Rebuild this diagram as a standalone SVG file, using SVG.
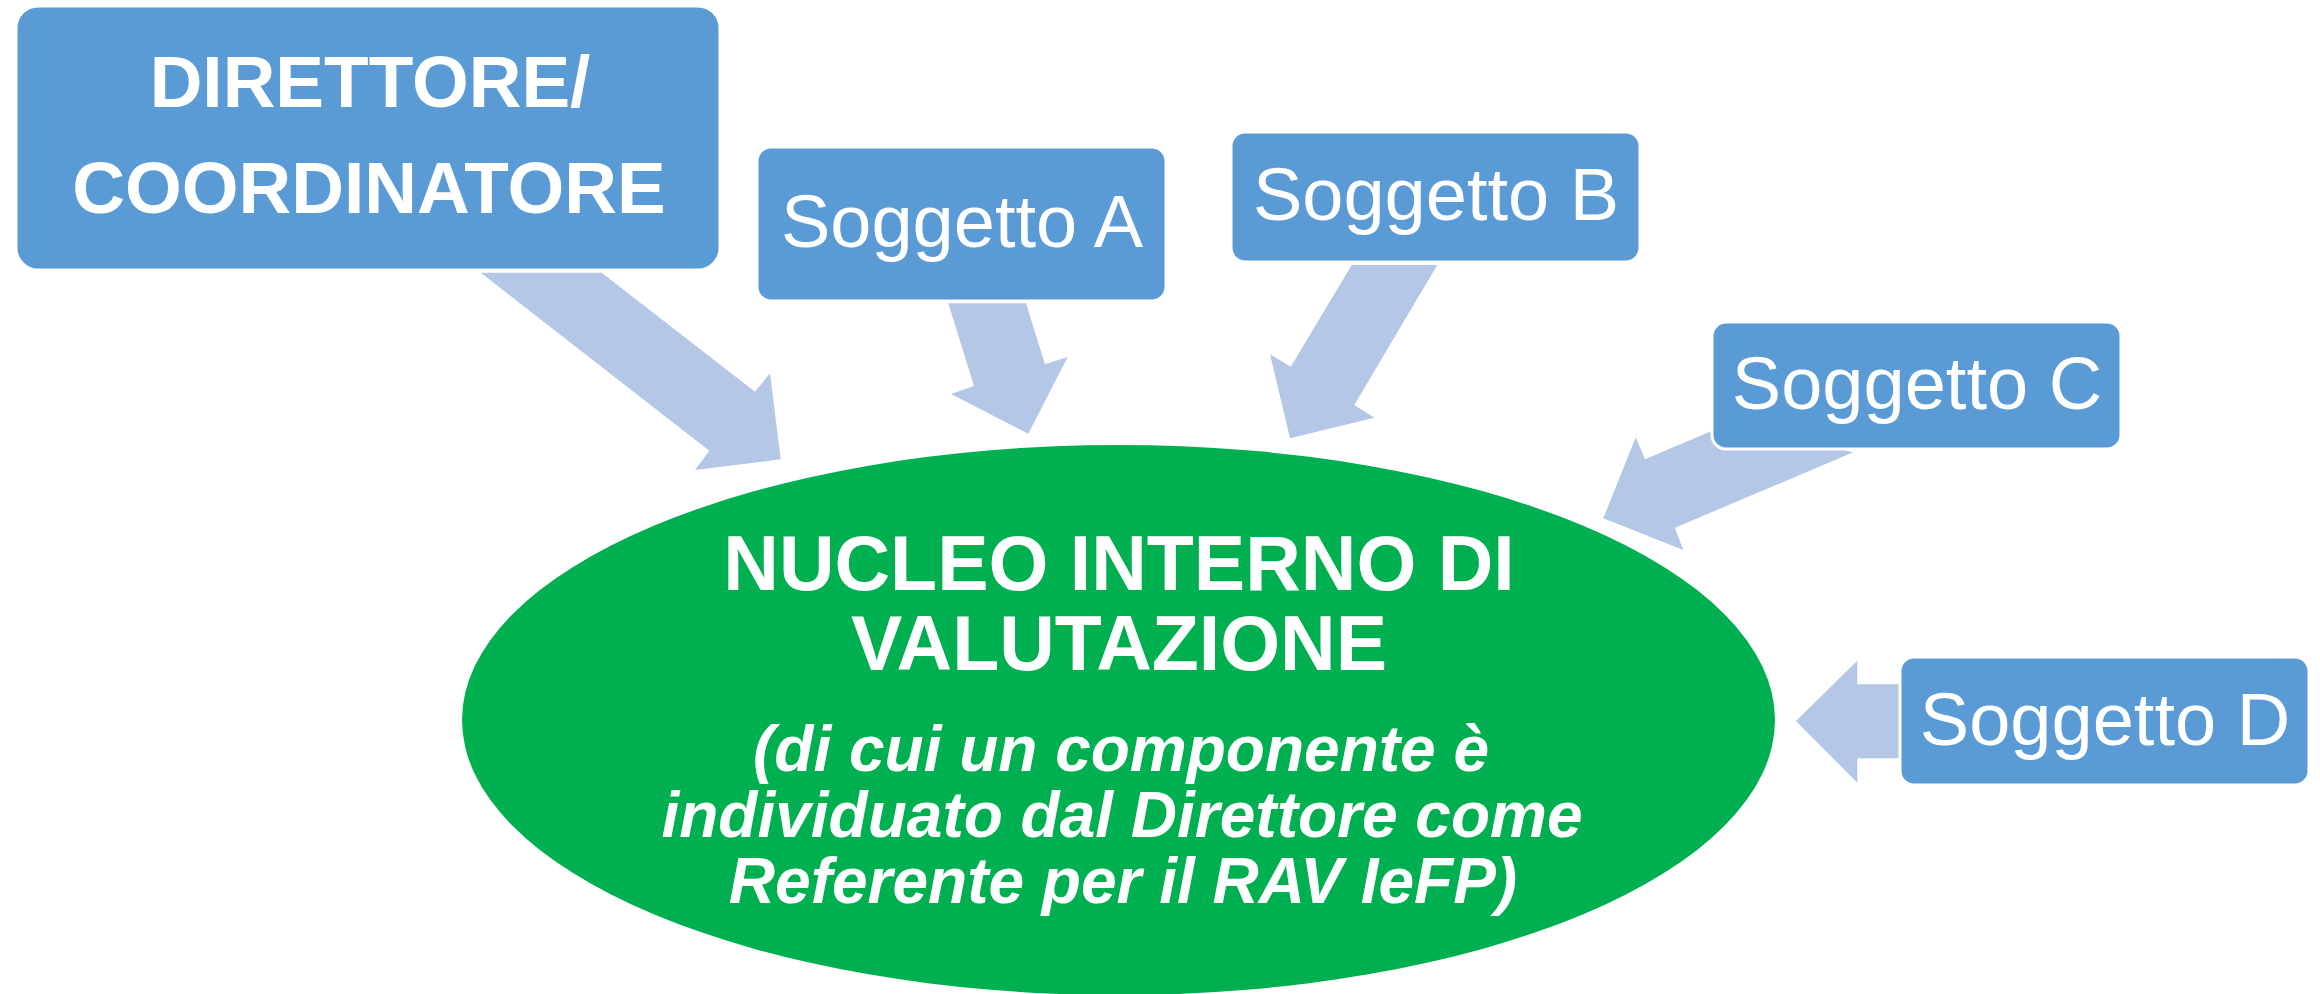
<svg xmlns="http://www.w3.org/2000/svg" width="2320" height="994" viewBox="0 0 2320 994">
<style>
.box{fill:#5B9BD5;stroke:#FFFFFF;stroke-width:3}
.arr{fill:#B4C7E7}
.t{fill:#FFFFFF;font-family:"Liberation Sans",Arial,sans-serif;text-anchor:middle}
.b{font-weight:bold}
.bi{font-weight:bold;font-style:italic}
.s{font-size:74px}
</style>
<rect width="2320" height="994" fill="#FFFFFF"/>
<g id="connectors">
<polygon class="arr" points="480.7,272.7 601.7,272.7 755,391.7 770,373.3 780.7,459.3 695,470 709.3,450.7"/>
<polygon class="arr" points="948.3,303.3 1026,303.3 1045,364.3 1067.7,357 1028.3,433.7 951,394 974,386"/>
<polygon class="arr" points="1351.7,265 1437.3,265 1354.3,405 1374.3,417.7 1290,438.3 1270,354.3 1290.7,366.7"/>
<polygon class="arr" points="1730,423.3 1853.3,452.3 1675,527.7 1683.3,550 1603.3,518.3 1635.7,437.3 1645,459.3"/>
<polygon class="arr" points="1902,684.3 1902,758.3 1857.3,758.3 1857.3,782.7 1796,721 1857.3,660.7 1857.3,684.3"/>
</g>
<g id="nucleo">
<ellipse cx="1118.5" cy="720" rx="656.5" ry="275" fill="#00B050"/>
<text class="t b" x="1119" y="590" font-size="77">NUCLEO INTERNO DI</text>
<text class="t b" x="1119" y="670" font-size="77">VALUTAZIONE</text>
<text class="t bi" x="1121" y="771" font-size="64">(di cui un componente è</text>
<text class="t bi" x="1122" y="837" font-size="64">individuato dal Direttore come</text>
<text class="t bi" x="1123" y="903" font-size="64">Referente per il RAV IeFP)</text>
</g>
<g id="direttore">
<rect class="box" x="16" y="6" width="704" height="264" rx="22" ry="22"/>
<text class="t b" x="370" y="107" font-size="73">DIRETTORE/</text>
<text class="t b" x="369" y="213" font-size="73">COORDINATORE</text>
</g>
<g id="soggettoA">
<rect class="box" x="757" y="147" width="409" height="154" rx="14" ry="14"/>
<text class="t s" x="962" y="247">Soggetto A</text>
</g>
<g id="soggettoB">
<rect class="box" x="1231" y="132" width="409" height="130" rx="14" ry="14"/>
<text class="t s" x="1436" y="220">Soggetto B</text>
</g>
<g id="soggettoC">
<rect class="box" x="1712" y="322" width="409" height="127" rx="14" ry="14"/>
<text class="t s" x="1917" y="409">Soggetto C</text>
</g>
<g id="soggettoD">
<rect class="box" x="1900" y="657" width="409" height="128" rx="14" ry="14"/>
<text class="t s" x="2105" y="745">Soggetto D</text>
</g>
</svg>
